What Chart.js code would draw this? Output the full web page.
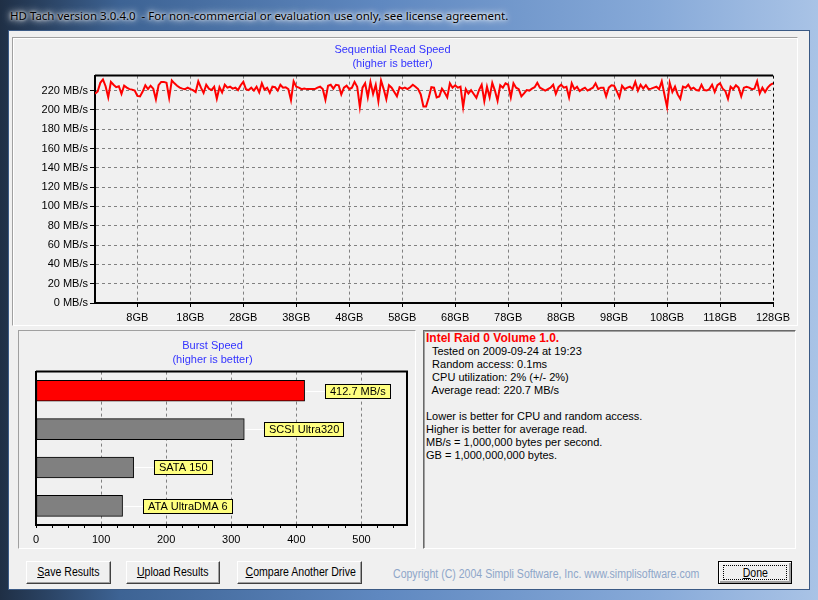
<!DOCTYPE html>
<html>
<head>
<meta charset="utf-8">
<title>HD Tach</title>
<script src="https://cdn.jsdelivr.net/npm/chart.js@4.4.0/dist/chart.umd.min.js"></script>
<style>
body{margin:0;width:818px;height:600px;overflow:hidden;position:relative;font-family:"Liberation Sans",Arial,sans-serif;
  background:linear-gradient(90deg,#1f2f45 0px,#3d6394 120px,#5f88c0 380px,#86a9d8 650px,#a9c3e6 818px);}
#titlebar{position:absolute;left:10px;top:8px;font:11.5px "Noto Sans","Open Sans",sans-serif;color:#000;white-space:pre;
  text-shadow:0 0 6px #fff,0 0 10px #fff,0 0 3px #fff;}
#client{position:absolute;left:8px;top:30px;width:802px;height:560px;background:#f0f0f0;border:1px solid #3b5a85;box-sizing:border-box;}
.panel{position:absolute;box-sizing:border-box;}
#pTop{left:12px;top:37px;width:786px;height:289px;border:1px solid #a0a0a0;border-right-color:#fff;border-bottom-color:#fff;box-shadow:inset 1px 1px #fff;}
#pBL{left:18px;top:330px;width:398px;height:219px;border:1px solid #a0a0a0;border-right-color:#fff;border-bottom-color:#fff;}
#pBR{left:423px;top:330px;width:373px;height:219px;border:1px solid #696969;border-right-color:#fff;border-bottom-color:#fff;box-shadow:inset 1px 1px #a0a0a0;}
canvas{position:absolute;}
#info{position:absolute;left:426px;top:332px;font-size:11px;line-height:13px;color:#000;white-space:pre;}
#info b{color:#ff0000;font-size:12px;}
.btn{position:absolute;top:561px;height:23px;box-sizing:border-box;background:#f0f0f0;border:1px solid;border-color:#fff #404040 #404040 #fff;
  box-shadow:inset -1px -1px #a0a0a0;font:12px "Liberation Sans",Arial,sans-serif;text-align:center;line-height:21px;color:#000;white-space:nowrap;}
.btn i{font-style:normal;display:inline-block;transform:scaleX(0.88);}
#done{border:1px solid #000;box-shadow:inset 1px 1px #fff,inset -2px -2px #a0a0a0;}
#done span{position:absolute;left:4px;top:3px;right:4px;bottom:3px;border:1px dotted #000;line-height:15px;}
#copy{position:absolute;left:393px;top:567px;font:12px "Liberation Sans",Arial,sans-serif;color:#8ea6c9;white-space:pre;
  transform:scaleX(0.88);transform-origin:0 0;}
</style>
</head>
<body>
<div id="titlebar">HD Tach version 3.0.4.0  - For non-commercial or evaluation use only, see license agreement.</div>
<div id="client"></div>
<div class="panel" id="pTop"></div>
<div class="panel" id="pBL"></div>
<div class="panel" id="pBR"></div>
<canvas id="seqChart" width="786" height="287" style="left:12px;top:38px"></canvas>
<canvas id="burstChart" width="397" height="218" style="left:18px;top:330px"></canvas>
<div id="info"><b>Intel Raid 0 Volume 1.0.</b>
  Tested on 2009-09-24 at 19:23
  Random access: 0.1ms
  CPU utilization: 2% (+/- 2%)
  Average read: 220.7 MB/s

Lower is better for CPU and random access.
Higher is better for average read.
MB/s = 1,000,000 bytes per second.
GB = 1,000,000,000 bytes.</div>
<div class="btn" style="left:26px;width:85px"><i><u>S</u>ave Results</i></div>
<div class="btn" style="left:126px;width:94px"><i><u>U</u>pload Results</i></div>
<div class="btn" style="left:237px;width:125px"><i><u>C</u>ompare Another Drive</i></div>
<div id="copy">Copyright (C) 2004 Simpli Software, Inc. www.simplisoftware.com</div>
<div class="btn" id="done" style="left:718px;width:74px"><span><i><u>D</u>one</i></span></div>

<script>
"use strict";

// read speed in MB/s, one sample every half GB
const sampleStepGB = 0.5;
const readQ1 = [216.6, 219, 228, 231.5, 224.5, 213, 229, 226, 223.5, 224.5,
    216.5, 225, 223, 221.5, 221, 220, 214.5, 214, 219, 225.5,
    221.5, 225, 222, 211, 225.5, 229, 229, 228, 212.5, 230.5,
    227.5, 225, 223, 222, 221.5, 223, 221.5, 220.5, 218.5, 229.5,
    223, 217.5, 226, 222, 220.5, 224, 211.5, 223.5, 218, 226,
    223, 224, 222, 223, 220.5, 225.5, 229, 221.5, 220.5, 223,
    220, 224, 218, 227.5];
const readQ2 = [221, 223, 217.5, 224, 223.5, 220, 226, 223, 223.5, 221.5,
    210, 229.5, 224, 223, 221.5, 222, 221.5, 221.5, 221.5, 221.5,
    223, 224, 221.5, 210.5, 225, 226, 222, 226, 225.5, 216,
    223, 225, 221.5, 223, 229, 224, 203, 223, 227.5, 213,
    229, 216.5, 226, 209, 230.5, 221.5, 211, 225.5, 223, 218.5,
    214, 223.5, 222, 223, 221.5, 223.5, 226, 224, 221.5, 216,
    203.5, 203.5, 212.5, 223.5];
const readQ3 = [223, 213, 214, 222, 218, 213, 227.5, 223, 225.5, 223,
    224, 203, 221.5, 217, 220.5, 216.5, 212.5, 220.5, 226, 209,
    224, 213, 228, 220, 209.5, 225.5, 223, 227.5, 226, 213,
    227.5, 223, 221.5, 214, 217, 220.5, 220, 222, 223.5, 228,
    223, 221.5, 220, 221.5, 223, 226, 216.5, 223.5, 226, 223,
    224, 213, 227.5, 221.5, 224, 219.5, 221.5, 223, 220, 221.5,
    223, 227.5, 221.5, 223];
const readQ4 = [223, 214, 223, 225.5, 225, 219.5, 213, 225, 221.5, 223,
    224, 221.5, 229, 220, 226, 222, 225.5, 221.5, 222, 223,
    224, 221.5, 229.5, 216, 203, 228, 218.5, 224, 216, 211.5,
    224, 223, 226, 221.5, 223, 220.5, 220, 226, 220.5, 220,
    221.5, 226, 218.5, 225.5, 227.5, 222, 219.5, 211.5, 224, 221.5,
    225.5, 223, 214, 223, 224, 223, 221.5, 222, 229.5, 217,
    223, 218.5, 223, 226, 227.5];
const readSpeed = readQ1.concat(readQ2, readQ3, readQ4);

const gbTicks = [8, 18, 28, 38, 48, 58, 68, 78, 88, 98, 108, 118, 128];

const burstNames = ["This drive", "SCSI Ultra320", "SATA 150", "ATA UltraDMA 6"];
const burstValues = [412.7, 320, 150, 133];
const burstTagText = ["412.7 MB/s", "SCSI Ultra320", "SATA 150", "ATA UltraDMA 6"];
const burstColors = ["#ff0000", "#808080", "#808080", "#808080"];

Chart.defaults.font.family = '"Liberation Sans", Arial, sans-serif';
Chart.defaults.font.size = 11;
Chart.defaults.color = "#000";

const titleFont = {size: 11, weight: "normal", lineHeight: 1.3};

// black frame on top (and right) of the plot
const frameBorder = {
    id: "frameBorder",
    afterDatasetsDraw(chart, args, opts) {
        const a = chart.chartArea, c = chart.ctx;
        c.save();
        c.strokeStyle = "#000";
        c.lineWidth = 2;
        c.beginPath();
        c.moveTo(a.left, a.top);
        c.lineTo(a.right, a.top);
        if (opts.right) c.lineTo(a.right, a.bottom);
        c.stroke();
        c.restore();
    }
};

// yellow callout boxes next to the burst bars
const burstTags = {
    id: "burstTags",
    afterDatasetsDraw(chart) {
        const c = chart.ctx;
        const bars = chart.getDatasetMeta(0).data;
        c.save();
        c.font = '11px "Liberation Sans", Arial, sans-serif';
        c.textBaseline = "middle";
        bars.forEach((b, i) => {
            const txt = burstTagText[i];
            const w = Math.round(c.measureText(txt).width + 10);
            const x0 = Math.round(b.x + 20);
            const yc = Math.round(b.y);
            c.strokeStyle = "#fff";
            c.lineWidth = 1;
            c.beginPath();
            c.moveTo(b.x + 1, yc + 0.5);
            c.lineTo(x0, yc + 0.5);
            c.stroke();
            c.fillStyle = "#ffff80";
            c.fillRect(x0, yc - 7, w, 15);
            c.strokeStyle = "#000";
            c.strokeRect(x0 + 0.5, yc - 6.5, w - 1, 14);
            c.fillStyle = "#000";
            c.fillText(txt, x0 + 5, yc + 1);
        });
        c.restore();
    }
};

var seqChart = new Chart(document.getElementById("seqChart"), {
    type: "line",
    data: {
        datasets: [{
            data: readSpeed.map((v, i) => ({x: i * sampleStepGB, y: v})),
            borderColor: "#ff0000",
            borderWidth: 2,
            pointRadius: 0,
            tension: 0,
            fill: false
        }]
    },
    options: {
        responsive: false,
        animation: false,
        devicePixelRatio: 1,
        layout: {padding: {left: 0, right: 25, top: 0, bottom: 0}},
        plugins: {
            legend: {display: false},
            tooltip: {enabled: false},
            title: {
                display: true,
                text: ["Sequential Read Speed", "(higher is better)"],
                color: "#3333ff",
                font: titleFont,
                padding: {top: 5, bottom: 4}
            },
            frameBorder: {right: false}
        },
        scales: {
            x: {
                type: "linear",
                min: 0,
                max: 128,
                afterBuildTicks: s => { s.ticks = gbTicks.map(v => ({value: v})); },
                ticks: {callback: v => v + "GB", padding: 4, maxRotation: 0, autoSkip: false},
                grid: {
                    color: c => (c.tick && c.tick.value === 128) ? "#000" : "#808080",
                    tickColor: "#000",
                    tickLength: 4
                },
                border: {color: "#000", width: 2, dash: [3, 3]},
                afterFit: s => { s.height = 22; }
            },
            y: {
                min: 0,
                max: 235.5,
                ticks: {stepSize: 20, includeBounds: false, callback: v => v + " MB/s", padding: 2},
                grid: {color: "#808080", tickColor: "#000", tickLength: 5},
                border: {color: "#000", width: 2, dash: [3, 3]},
                afterFit: s => { s.width = 83; }
            }
        }
    },
    plugins: [frameBorder]
});

var burstChart = new Chart(document.getElementById("burstChart"), {
    type: "bar",
    data: {
        labels: burstNames,
        datasets: [{
            data: burstValues,
            backgroundColor: burstColors,
            borderColor: "#000",
            borderWidth: 1,
            borderSkipped: false,
            barThickness: 21
        }]
    },
    options: {
        indexAxis: "y",
        responsive: false,
        animation: false,
        devicePixelRatio: 1,
        layout: {padding: {left: 0, right: 8, top: 0, bottom: 0}},
        plugins: {
            legend: {display: false},
            tooltip: {enabled: false},
            title: {
                display: true,
                text: ["Burst Speed", "(higher is better)"],
                color: "#3333ff",
                font: titleFont,
                padding: {top: 9, bottom: 4}
            },
            frameBorder: {right: true}
        },
        scales: {
            x: {
                min: 0,
                max: 570,
                ticks: {
                    stepSize: 25,
                    includeBounds: false,
                    autoSkip: false,
                    maxRotation: 0,
                    padding: 5,
                    callback: v => (v % 100 === 0 ? v : "")
                },
                grid: {
                    color: c => (c.tick && c.tick.value % 100 === 0 && c.tick.value > 0) ? "#808080" : "rgba(0,0,0,0)",
                    tickColor: "#000",
                    tickLength: 3
                },
                border: {color: "#000", width: 2, dash: [3, 3]},
                afterFit: s => { s.height = 23; }
            },
            y: {
                ticks: {display: false},
                grid: {display: false},
                border: {color: "#000", width: 2},
                afterFit: s => { s.width = 18; }
            }
        }
    },
    plugins: [frameBorder, burstTags]
});
</script>
</body>
</html>
